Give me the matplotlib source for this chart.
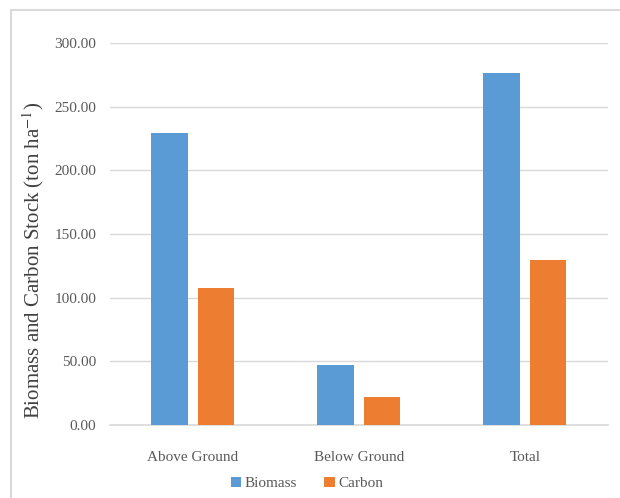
import matplotlib

matplotlib.use("Agg")
import matplotlib.pyplot as plt
import numpy as np
from matplotlib.patches import Rectangle

plt.rcParams["font.family"] = ["Liberation Serif", "DejaVu Serif"]
plt.rcParams["mathtext.fontset"] = "stix"

categories = ["Above Ground", "Below Ground", "Total"]
biomass = [229.6, 46.8, 276.4]
carbon = [107.9, 22.0, 129.9]
yticks = [0, 50, 100, 150, 200, 250, 300]

blue = "#5b9bd5"
orange = "#ed7d31"
grid_gray = "#d9d9d9"
text_gray = "#595959"

fig = plt.figure(figsize=(6.2, 4.98), dpi=100)
ax = fig.add_axes([0.1774, 0.1466, 0.8032, 0.7671])

x = np.arange(len(categories))
width = 0.22
gap = 0.06
ax.bar(x - (width + gap) / 2, biomass, width, color=blue, label="Biomass", zorder=3)
ax.bar(x + (width + gap) / 2, carbon, width, color=orange, label="Carbon", zorder=3)

ax.set_xlim(-0.5, 2.5)
ax.set_ylim(0, 300)
ax.set_yticks(yticks)
ax.set_yticklabels([f"{v:.2f}" for v in yticks], fontsize=11, color=text_gray)
ax.set_xticks(x)
ax.set_xticklabels(categories, fontsize=11, color=text_gray)
ax.tick_params(axis="y", length=0, pad=10)
ax.tick_params(axis="x", length=0, pad=19)
ax.yaxis.grid(True, color=grid_gray, linewidth=1, zorder=0)
for side in ["top", "right", "left"]:
    ax.spines[side].set_visible(False)
ax.spines["bottom"].set_color(grid_gray)
ax.spines["bottom"].set_linewidth(1.2)

ax.set_ylabel("Biomass and Carbon Stock (ton ha$^{\\mathrm{-1}}$)", fontsize=15,
              color="#404040")
ax.yaxis.set_label_coords(-0.128, 0.43)

fig.legend(loc="lower center", bbox_to_anchor=(0.495, -0.012), ncol=2, frameon=False,
           fontsize=11, handlelength=0.7, handleheight=0.7, handletextpad=0.2,
           columnspacing=1.8, labelcolor=text_gray)

# light outer frame around the chart area
fig.patches.append(Rectangle((0.0177, -0.05), 1.1, 1.03, transform=fig.transFigure,
                             fill=False, edgecolor=grid_gray, linewidth=1.5))

fig.savefig("out.png", dpi=100)
